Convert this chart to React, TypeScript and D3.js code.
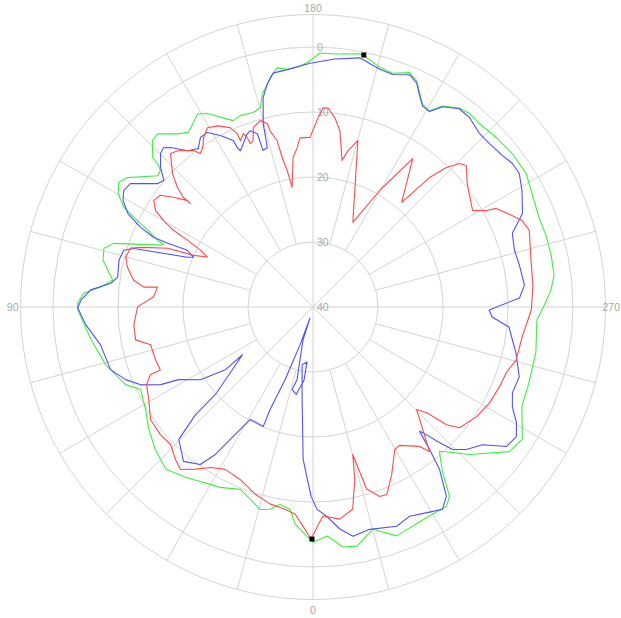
import React from "react";
import * as d3 from "d3";

// ---- data: [angle (deg), level] pairs, radial axis 40 at centre -> 0 at ring ----
const radialTicks = [0, 10, 20, 30, 40];
const angleTicks = [0, 90, 180, 270];
const angleTickLabels = ["0", "90", "180", "270"];

const greenSeries: [number, number][] = [
  [0, 3.8], [2.0, 5.0], [4.7, 6.5], [6.5, 8.7], [9.5, 9.2], [12.0, 8.2], [14.6, 7.8], [18.1, 8.9],
  [21.7, 9.8], [27.2, 8.8], [36.8, 7.3], [42.2, 6.3], [47.9, 7.3], [53.3, 8.5], [58.5, 9.8],
  [64.4, 10.6], [67.5, 8.8], [74.4, 6.9], [81.6, 5.5], [89.3, 3.8], [91.0, 3.8], [93.5, 4.7],
  [95.4, 7.2], [97.7, 8.9], [100.2, 7.9], [102.6, 6.9], [105.7, 6.6], [107.7, 7.8], [112.1, 14.7],
  [112.8, 15.1], [113.2, 14.0], [114.9, 12.0], [116.6, 9.2], [117.8, 7.1], [120.2, 5.3], [122.7, 4.5],
  [124.9, 5.2], [130.2, 8.7], [131.8, 8.5], [132.7, 7.5], [133.0, 6.3], [136.0, 4.4], [138.1, 4.2],
  [142.0, 6.2], [144.5, 7.0], [146.7, 6.3], [149.1, 5.4], [151.4, 6.1], [156.8, 8.8], [159.2, 8.5],
  [162.9, 8.7], [165.2, 8.3], [166.6, 6.3], [168.4, 5.0], [169.4, 4.1], [171.5, 2.8], [173.8, 3.2],
  [176.9, 2.9], [179.3, 2.1], [181.6, 0.9], [185.4, 0.9], [190.5, 0.4], [191.7, 0.6], [195.5, 1.7],
  [198.8, 2.0], [202.4, 1.0], [204.6, 1.7], [206.6, 3.3], [208.3, 4.5], [210.7, 4.9], [212.8, 3.2],
  [216.3, 2.0], [219.0, 1.7], [222.2, 1.9], [227.3, 1.6], [232.4, 1.3], [237.9, 1.3], [248.4, 2.6],
  [252.9, 2.5], [257.7, 2.5], [262.5, 2.6], [265.9, 3.3], [269.5, 4.4], [273.3, 5.5], [281.6, 5.0],
  [289.3, 4.8], [295.5, 4.4], [302.3, 1.9], [306.4, 2.5], [313.3, 6.9], [316.2, 9.0], [318.8, 10.5],
  [321.9, 7.7], [324.2, 4.1], [326.2, 3.1], [331.6, 3.2], [339.9, 2.5], [344.9, 4.6], [349.6, 2.6],
  [352.9, 2.8], [356.5, 4.7], [360, 3.8],
];

const blueSeries: [number, number][] = [
  [0.6, 10.9], [3.7, 16.5], [6.7, 25.65], [10.7, 30.95], [6.2, 31.5], [7.0, 28.7], [10.9, 26.3],
  [14.2, 26.9], [12.4, 28.55], [16.9, 34.7], [15.3, 38.25], [18.9, 33.8], [21.0, 28.0], [22.7, 22.9],
  [22.6, 20.1], [29.1, 20.2], [30.7, 18.1], [33.5, 12.8], [35.6, 10.2], [40.0, 9.0], [45.4, 11.0],
  [47.5, 15.5], [48.1, 19.8], [55.9, 26.9], [54.4, 23.4], [57.1, 19.4], [61.6, 16.5], [63.0, 13.7],
  [65.7, 10.9], [68.8, 9.1], [72.8, 7.4], [79.9, 6.8], [85.5, 4.95], [89.8, 3.8], [91.7, 4.3],
  [94.4, 5.7], [96.7, 8.7], [98.7, 9.6], [103.6, 9.3], [106.7, 9.6], [108.1, 11.0], [111.6, 19.2],
  [112.6, 20.1], [114.3, 18.8], [113.7, 15.6], [113.6, 13.2], [114.8, 10.8], [116.8, 8.1], [119.3, 6.5],
  [121.6, 5.8], [124.1, 6.1], [128.5, 9.5], [130.3, 9.9], [132.5, 8.2], [135.2, 6.7], [136.8, 6.4],
  [138.2, 7.1], [141.3, 9.2], [144.1, 9.9], [146.4, 8.7], [148.8, 8.6], [151.6, 10.0], [154.4, 11.6],
  [154.6, 12.9], [155.1, 13.5], [159.2, 11.5], [160.4, 11.2], [162.2, 12.0], [162.3, 14.7], [164.0, 14.5],
  [164.8, 10.8], [166.6, 6.9], [168.4, 5.0], [170.3, 3.5], [174.5, 3.2], [179.3, 2.5], [185.0, 1.7],
  [190.6, 1.0], [195.7, 2.0], [198.9, 2.2], [202.6, 1.3], [204.8, 2.0], [206.8, 3.6], [208.6, 4.8],
  [210.8, 5.0], [212.9, 3.3], [216.4, 2.1], [219.6, 2.2], [223.8, 3.0], [227.2, 3.0], [231.3, 2.7],
  [234.2, 2.2], [237.1, 2.2], [240.9, 3.2], [245.9, 4.7], [247.2, 5.6], [249.7, 7.3], [254.2, 7.8],
  [258.5, 7.6], [264.1, 7.3], [267.5, 8.2], [270.97, 12.9], [273.2, 12.4], [275.8, 9.7], [279.4, 8.9],
  [282.7, 8.0], [288.7, 6.5], [293.3, 6.6], [296.6, 5.7], [299.6, 4.0], [302.5, 2.9], [305.8, 3.3],
  [309.1, 6.4], [312.9, 7.8], [315.6, 9.3], [317.0, 11.5], [318.9, 14.4], [319.4, 14.8], [320.7, 11.7],
  [322.1, 8.3], [324.8, 4.4], [327.4, 3.05], [330.4, 3.7], [335.2, 4.55], [339.1, 3.9], [345.7, 4.7],
  [350.1, 4.2], [353.1, 5.6], [356.2, 7.7], [358.9, 8.9], [360.6, 10.9],
];

const redSeries: [number, number][] = [
  [0.5, 4.3], [2.1, 5.8], [4.9, 8.0], [7.9, 8.6], [12.3, 9.0], [17.1, 9.85], [22.9, 11.2], [28.4, 11.6],
  [32.6, 10.7], [35.9, 9.2], [39.2, 7.75], [42.0, 8.4], [46.0, 9.55], [50.1, 9.4], [55.3, 9.6],
  [60.6, 11.0], [65.0, 11.75], [67.4, 12.9], [67.6, 14.6], [71.5, 14.45], [76.9, 14.35], [79.5, 12.25],
  [84.3, 12.3], [90.0, 13.0], [91.3, 13.9], [93.6, 15.4], [97.3, 15.9], [96.7, 13.8], [98.5, 12.1],
  [102.1, 10.8], [104.9, 10.2], [107.9, 10.5], [109.4, 12.4], [112.0, 15.9], [113.4, 20.0], [115.3, 22.0],
  [116.8, 20.6], [118.0, 18.1], [118.8, 15.5], [120.1, 13.4], [121.5, 11.6], [123.8, 10.5], [126.2, 10.9],
  [128.2, 12.7], [130.3, 14.7], [130.2, 15.3], [130.2, 13.9], [131.4, 12.2], [133.5, 10.2], [137.1, 7.8],
  [139.1, 8.2], [142.6, 9.7], [143.7, 10.7], [145.3, 10.2], [147.1, 9.0], [149.5, 8.0], [152.2, 8.5],
  [155.2, 9.6], [156.4, 10.9], [156.4, 12.1], [158.1, 11.25], [158.8, 12.05], [159.0, 13.1], [160.2, 12.8],
  [161.6, 10.9], [164.2, 10.2], [166.0, 10.9], [166.3, 12.1], [167.8, 13.8], [168.5, 17.0], [169.3, 18.6],
  [170.1, 21.3], [172.4, 16.8], [174.3, 15.4], [175.6, 13.9], [179.0, 13.9], [181.2, 11.3], [182.9, 9.3],
  [184.3, 9.3], [186.6, 10.7], [188.7, 12.6], [191.2, 17.0], [192.6, 15.35], [195.1, 13.5], [205.2, 25.6],
  [209.8, 19.3], [213.9, 12.5], [220.3, 18.9], [222.0, 13.2], [223.7, 10.3], [225.6, 8.45], [227.3, 7.9],
  [231.3, 9.6], [238.8, 11.3], [240.9, 9.5], [241.7, 8.0], [245.3, 6.3], [247.5, 5.2], [250.5, 4.7],
  [257.9, 5.7], [264.3, 6.0], [270.8, 6.4], [278.1, 7.5], [284.6, 7.7], [288.8, 8.6], [293.2, 8.8],
  [298.5, 9.1], [303.9, 9.7], [309.5, 10.8], [311.4, 12.6], [312.9, 16.1], [314.7, 17.6], [321.1, 11.45],
  [322.6, 13.0], [328.0, 14.9], [330.2, 14.7], [334.8, 11.55], [338.5, 9.0], [340.6, 9.1], [343.6, 10.8],
  [344.9, 16.5], [346.4, 12.7], [348.9, 8.3], [352.8, 7.1], [357.3, 7.8], [360.5, 4.3],
];

const markerPoints: [number, number][] = [[191.4, 0.45], [0.25, 4.3]];

const series = [
  { name: "green", color: "#3ef03e", data: greenSeries },
  { name: "blue", color: "#5050ff", data: blueSeries },
  { name: "red", color: "#ff4a4a", data: redSeries },
];

export default function App() {
  const W = 621, H = 618;
  const cx = 313, cy = 307;
  const outerValue = -5;
  const r = d3.scaleLinear().domain([40, outerValue]).range([0, 292.5]);
  // angle 0 at bottom, increasing clockwise (90 left, 180 top, 270 right)
  const a = (deg: number) => ((deg + 180) * Math.PI) / 180;
  const pos = (deg: number, val: number) => {
    const rad = (deg * Math.PI) / 180;
    const rr = r(val);
    return [cx - rr * Math.sin(rad), cy + rr * Math.cos(rad)];
  };
  const line = d3
    .lineRadial<[number, number]>()
    .angle((d) => a(d[0]))
    .radius((d) => r(d[1]));

  const spokes = d3.range(0, 360, 15);
  const gridColor = "#d4d4d4";
  const labelColor = "#a8a8a8";
  const font = "'Liberation Sans', Arial, sans-serif";

  const rings = [...radialTicks.filter((t) => t !== 40), outerValue];

  return (
    <svg width={W} height={H} style={{ position: "absolute", left: 0, top: 0, background: "#fff" }}>
      <g>
        {rings.map((t) => (
          <circle key={t} cx={cx} cy={cy} r={r(t)} fill="none" stroke={gridColor} strokeWidth={1} />
        ))}
        {spokes.map((deg) => {
          const inner = deg % 45 === 0 ? 40 : 30;
          const [x1, y1] = pos(deg, inner);
          const [x2, y2] = pos(deg, outerValue);
          return <line key={deg} x1={x1} y1={y1} x2={x2} y2={y2} stroke={gridColor} strokeWidth={1} />;
        })}
      </g>
      <g fontFamily={font} fontSize={10.5} fill={labelColor}>
        {radialTicks.map((t) => (
          <text key={t} x={cx + 4} y={cy - r(t) + 4}>
            {t}
          </text>
        ))}
        {angleTicks.map((deg, i) => {
          const [x, y] = pos(deg, outerValue);
          const lbl = angleTickLabels[i];
          if (deg === 0) return <text key={deg} x={x} y={y + 14} textAnchor="middle">{lbl}</text>;
          if (deg === 180) return <text key={deg} x={x} y={y - 3} textAnchor="middle">{lbl}</text>;
          if (deg === 90) return <text key={deg} x={x - 2} y={y + 4} textAnchor="end">{lbl}</text>;
          return <text key={deg} x={W - 1} y={y + 4} textAnchor="end">{lbl}</text>;
        })}
      </g>
      <g transform={`translate(${cx},${cy})`}>
        {series.map((s) => (
          <path key={s.name} d={line(s.data) || ""} fill="none" stroke={s.color} strokeWidth={1.1} strokeLinejoin="round" />
        ))}
      </g>
      {markerPoints.map((m, i) => {
        const [x, y] = pos(m[0], m[1]);
        return <rect key={i} x={x - 2.5} y={y - 2.5} width={5} height={5} fill="#000" />;
      })}
    </svg>
  );
}
